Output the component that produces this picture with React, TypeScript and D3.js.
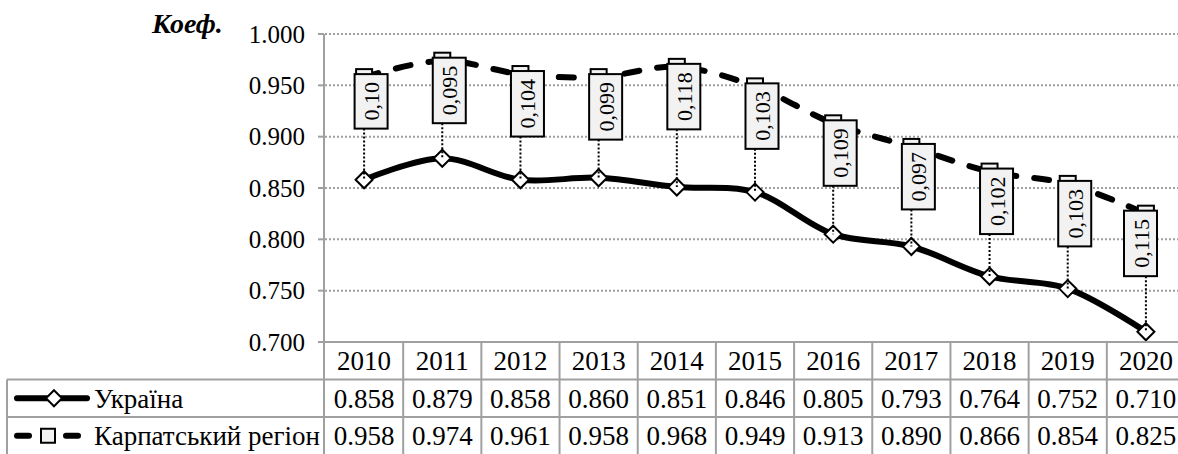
import React from 'react';
import * as d3 from 'd3';

const years = ['2010', '2011', '2012', '2013', '2014', '2015', '2016', '2017', '2018', '2019', '2020'];
const ukraine = [0.858, 0.879, 0.858, 0.860, 0.851, 0.846, 0.805, 0.793, 0.764, 0.752, 0.710];
const carpathian = [0.958, 0.974, 0.961, 0.958, 0.968, 0.949, 0.913, 0.890, 0.866, 0.854, 0.825];
const gapLabels = ['0,10', '0,095', '0,104', '0,099', '0,118', '0,103', '0,109', '0,097', '0,102', '0,103', '0,115'];
const yTicks = [0.7, 0.75, 0.8, 0.85, 0.9, 0.95, 1.0];
const seriesNames = ['Україна', 'Карпатський регіон'];
const axisTitle = 'Коеф.';

const W = 1178;
const H = 454;
const FONT = 'Liberation Serif';
const GRID = '#a0a0a0';

const plot = { left: 325, right: 1185, top: 34, bottom: 342 };
const rowH = 37.5;
const legendLeft = 7;

const x = d3.scaleBand<string>().domain(years).range([plot.left, plot.right]);
const cx = (i: number) => x(years[i])! + x.bandwidth() / 2;
const y = d3.scaleLinear().domain([0.7, 1.0]).range([plot.bottom, plot.top]);
const fmt = d3.format('.3f');

const smooth = d3.line<number>()
  .x((_, i) => cx(i))
  .y(d => y(d))
  .curve(d3.curveCatmullRom.alpha(0.5));

const diamond = (px: number, py: number, r: number) =>
  `M${px},${py - r}L${px + r},${py}L${px},${py + r}L${px - r},${py}Z`;

// Times-metric text width (digits 0.5em, comma 0.25em)
const textLen = (s: string, size: number) =>
  s.split('').reduce((a, c) => a + (c === ',' || c === '.' ? 0.25 : 0.5), 0) * size;

const App: React.FC = () => {
  const tableBottom = plot.bottom + rowH * 3;
  const r1 = plot.bottom + rowH * 1.5;
  const r2 = plot.bottom + rowH * 2.5;
  const sq = 16;
  const boxW = 33;
  const pad = 8;
  const labelSize = 22;

  const rows = [years, ukraine.map(fmt), carpathian.map(fmt)];

  return (
    <svg
      width={W}
      height={H}
      style={{ position: 'absolute', left: 0, top: 0, background: '#fff', fontFamily: FONT }}
    >
      {/* gridlines */}
      {yTicks.filter(t => t > 0.7).map(t => (
        <line key={'g' + t} x1={plot.left} x2={plot.right} y1={y(t)} y2={y(t)}
          stroke={GRID} strokeWidth={2} strokeDasharray="2,2" />
      ))}

      {/* y axis */}
      <line x1={plot.left - 1} x2={plot.left - 1} y1={plot.top} y2={tableBottom} stroke={GRID} strokeWidth={2} />
      {yTicks.map(t => (
        <g key={'t' + t}>
          <line x1={plot.left - 7} x2={plot.left - 1} y1={y(t)} y2={y(t)} stroke={GRID} strokeWidth={2} />
          <text x={plot.left - 20} y={y(t) + 8.5} textAnchor="end" fontSize={25} style={{ fontFamily: FONT }}>
            {fmt(t)}
          </text>
        </g>
      ))}

      <text x={152} y={33} fontSize={28} fontWeight="bold" fontStyle="italic" style={{ fontFamily: FONT }}>
        {axisTitle}
      </text>

      {/* Carpathian region: dashed smooth line + square markers */}
      <path d={smooth(carpathian) || ''} fill="none" stroke="#000" strokeWidth={6}
        strokeLinecap="round" strokeDasharray="15,18" />
      {carpathian.map((v, i) => (
        <rect key={'s' + i} x={cx(i) - sq / 2} y={y(v) - sq / 2} width={sq} height={sq}
          fill="#f2f2f2" stroke="#000" strokeWidth={2} />
      ))}

      {/* Ukraine: solid smooth line + diamonds */}
      <path d={smooth(ukraine) || ''} fill="none" stroke="#000" strokeWidth={6} />
      {ukraine.map((v, i) => (
        <path key={'d' + i} d={diamond(cx(i), y(v), 8.5)} fill="#fff" stroke="#000" strokeWidth={2} />
      ))}

      {/* gap labels with leader lines */}
      {gapLabels.map((lab, i) => {
        const boxH = textLen(lab, labelSize) + pad * 2;
        let bx = cx(i) + 7 - boxW / 2;
        if (bx + boxW > plot.right - 28) bx = plot.right - 28 - boxW;
        const by = y(carpathian[i]) - 3;
        return (
          <g key={'l' + i}>
            <line x1={cx(i)} x2={cx(i)} y1={by + boxH} y2={y(ukraine[i])}
              stroke="#000" strokeWidth={2} strokeDasharray="2,2" />
            <rect x={bx} y={by} width={boxW} height={boxH} fill="#f2f2f2" stroke="#000" strokeWidth={2} />
            <text
              transform={`translate(${bx + boxW / 2 + 8},${by + boxH / 2}) rotate(-90)`}
              textAnchor="middle"
              fontSize={labelSize}
              style={{ fontFamily: FONT }}
            >
              {lab}
            </text>
          </g>
        );
      })}

      {/* data table */}
      <line x1={plot.left - 7} x2={plot.right} y1={plot.bottom} y2={plot.bottom} stroke={GRID} strokeWidth={2} />
      {[1, 2].map(k => (
        <line key={'h' + k} x1={legendLeft} x2={plot.right} y1={plot.bottom + rowH * k} y2={plot.bottom + rowH * k}
          stroke={GRID} strokeWidth={2} />
      ))}
      <line x1={legendLeft} x2={legendLeft} y1={plot.bottom + rowH} y2={tableBottom} stroke={GRID} strokeWidth={2} />
      {years.map(yr => {
        const bx = x(yr)! + x.bandwidth();
        return <line key={'v' + yr} x1={bx} x2={bx} y1={plot.bottom} y2={tableBottom} stroke={GRID} strokeWidth={2} />;
      })}
      {rows.map((vals, r) =>
        vals.map((v, i) => (
          <text key={`c${r}-${i}`} x={cx(i)} y={plot.bottom + rowH * r + rowH / 2 + 9.5}
            textAnchor="middle" fontSize={27} style={{ fontFamily: FONT }}>
            {v}
          </text>
        ))
      )}

      {/* legend keys */}
      <line x1={17} x2={87} y1={r1} y2={r1} stroke="#000" strokeWidth={6} strokeLinecap="round" />
      <path d={diamond(54, r1, 8)} fill="#fff" stroke="#000" strokeWidth={2} />
      <line x1={17} x2={29} y1={r2} y2={r2} stroke="#000" strokeWidth={6} strokeLinecap="round" />
      <line x1={66} x2={78} y1={r2} y2={r2} stroke="#000" strokeWidth={6} strokeLinecap="round" />
      <rect x={41} y={r2 - 7} width={14} height={14} fill="#f2f2f2" stroke="#000" strokeWidth={2} />
      {seriesNames.map((name, i) => (
        <text key={name} x={94} y={(i === 0 ? r1 : r2) + 9.5} fontSize={27} style={{ fontFamily: FONT }}>
          {name}
        </text>
      ))}
    </svg>
  );
};

export default App;
